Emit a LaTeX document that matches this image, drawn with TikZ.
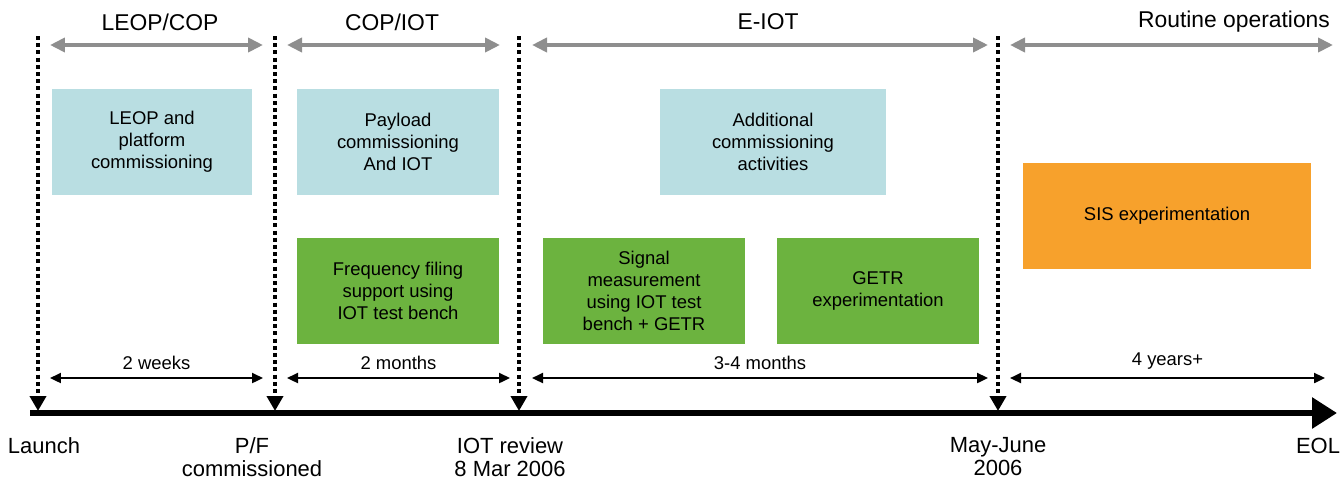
\documentclass[tikz,border=0pt]{standalone}
\usepackage{fontspec}
\setmainfont{Liberation Sans}
\usepackage{xcolor}
\usetikzlibrary{arrows.meta,positioning}
\definecolor{boxblue}{HTML}{B9DEE2}
\definecolor{boxgreen}{HTML}{6CB33F}
\definecolor{boxorange}{HTML}{F7A12C}
\definecolor{spangray}{HTML}{8E8E8E}

\begin{document}
\begin{tikzpicture}[x=0.02cm, y=-0.02cm,
  task/.style={align=center, inner sep=2pt, font=\fontsize{10.5}{12.5}\selectfont, minimum height=2.12cm},
  blue/.style={task, fill=boxblue},
  green/.style={task, fill=boxgreen},
  orange/.style={task, fill=boxorange},
  phase/.style={font=\fontsize{13}{15}\selectfont},
  span/.style={{Triangle[length=3mm,width=2.8mm]}-{Triangle[length=3mm,width=2.8mm]}, line width=2.4pt, draw=spangray},
  dur/.style={{Triangle[length=2.2mm,width=2mm]}-{Triangle[length=2.2mm,width=2mm]}, line width=1.3pt},
  durlabel/.style={font=\fontsize{10.5}{12}\selectfont},
  milestone/.style={line width=2.3pt, dash pattern=on 2.3pt off 1.8pt, -{Triangle[length=3mm,width=3.2mm]}},
  event/.style={align=center, font=\fontsize{12.5}{13.5}\selectfont, inner sep=1pt}
]
\useasboundingbox (0,0) rectangle (1344,484);

% activity boxes
\node[blue, minimum width=4cm] (leop) at (152,142) {LEOP and\\platform\\commissioning};
\node[blue, minimum width=4.04cm] (payload) at (398,142) {Payload\\commissioning\\And IOT};
\node[blue, minimum width=4.54cm] (extra) at (773,142) {Additional\\commissioning\\activities};
\node[green, minimum width=4.04cm] (freq) at (398,291) {Frequency filing\\support using\\IOT test bench};
\node[green, minimum width=4.04cm] (signal) at (644,291) {Signal\\measurement\\using IOT test\\bench + GETR};
\node[green, minimum width=4.06cm] (getr) at (878,291) {GETR\\experimentation};
\node[orange, minimum width=5.76cm] (sis) at (1167,216) {SIS experimentation};

% phases on top
\node[phase] (p1) at (160,22) {LEOP/COP};
\node[phase] (p2) at (392,22) {COP/IOT};
\node[phase] (p3) at (768,22) {E-IOT};
\node[phase] (p4) at (1234,22) {Routine operations};
\coordinate (p1a) at (50,45);   \coordinate (p1b) at (263,45);
\coordinate (p2a) at (287,45);  \coordinate (p2b) at (500,45);
\coordinate (p3a) at (532,45);  \coordinate (p3b) at (988,45);
\coordinate (p4a) at (1010,45); \coordinate (p4b) at (1333,45);
\draw[span] (p1a) -- (p1b);
\draw[span] (p2a) -- (p2b);
\draw[span] (p3a) -- (p3b);
\draw[span] (p4a) -- (p4b);

% durations
\coordinate (d1a) at (50,378);   \coordinate (d1b) at (263,378);
\coordinate (d2a) at (287,378);  \coordinate (d2b) at (510,378);
\coordinate (d3a) at (532,378);  \coordinate (d3b) at (988,378);
\coordinate (d4a) at (1010,378); \coordinate (d4b) at (1325,378);
\draw[dur] (d1a) -- node[durlabel, above=1pt] (w2) {2 weeks} (d1b);
\draw[dur] (d2a) -- node[durlabel, above=1pt] (m2) {2 months} (d2b);
\draw[dur] (d3a) -- node[durlabel, above=1pt] (m34) {3-4 months} (d3b);
\draw[dur] (d4a) -- node[durlabel, above=1pt] (y4) {4 years+} (d4b);

% timeline
\coordinate (t0) at (30,413);
\coordinate (t1) at (1337,413);
\draw[line width=3.4pt, -{Triangle[length=5mm,width=6mm]}] (t0) -- (t1);

% milestones
\foreach \name/\xx in {launch/38, pf/275, review/519, may/998}{
  \coordinate (\name top) at (\xx,36);
  \coordinate (\name bot) at (\xx,411);
  \draw[milestone] (\name top) -- (\name bot);
}
\node[event] (launch) at (44,446) {Launch};
\node[event, anchor=north] (pf) at (252,435) {P/F\\commissioned};
\node[event, anchor=north] (review) at (510,435) {IOT review\\8 Mar 2006};
\node[event, anchor=north] (may) at (998,435) {May-June\\2006};
\node[event] (eol) at (1318,446) {EOL};
\end{tikzpicture}
\end{document}
